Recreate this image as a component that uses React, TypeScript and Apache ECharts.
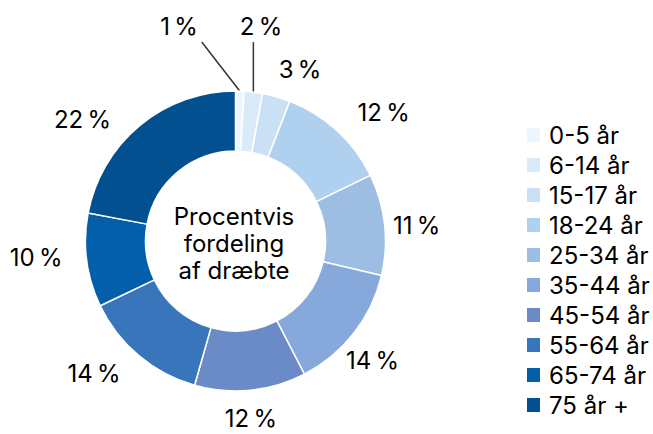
import React, { useEffect, useRef } from "react";
import * as echarts from "echarts";

// ---- data ----
const CATEGORIES = ["0-5 år", "6-14 år", "15-17 år", "18-24 år", "25-34 år", "35-44 år", "45-54 år", "55-64 år", "65-74 år", "75 år +"];
const SHARES = [0.9, 2.0, 3.0, 11.9, 10.9, 13.7, 12.0, 13.5, 10.1, 22.0];
const CENTER_TEXT = ["Procentvis", "fordeling", "af dræbte"];

// ---- styling ----
const COLORS = ["#eef6fd", "#daebf8", "#c9e0f5", "#afd0ee", "#9dbde3", "#87a8db", "#6a8bc7", "#3875ba", "#045fab", "#02508f"];
const FONT = "Inter, 'Noto Sans', sans-serif";
const FONT_SIZE = 24;
// label nudges relative to the default outside anchor
const LABEL_NUDGE: number[][] = [
  [-65.7, -64.4],
  [2.6, -65.4],
  [18.6, -26.7],
  [41.5, -18.2],
  [27.1, 1.3],
  [13.8, 27],
  [-4.6, 28],
  [-39.8, 18.3],
  [-45.7, -2.8],
  [-52.4, -6.4],
];
// leader line end offsets relative to slice edge point (only small slices)
const LEADER: Record<number, number[]> = { 0: [-38, -49], 1: [0, -50] };

export default function App() {
  const ref = useRef<HTMLDivElement>(null);
  useEffect(() => {
    if (!ref.current) return;
    const chart = echarts.init(ref.current, undefined, { renderer: "svg" });
    const data = CATEGORIES.map((name, i) => ({
      name,
      value: SHARES[i],
      itemStyle: { color: COLORS[i] },
      labelLine: { show: LEADER[i] !== undefined },
    }));
    chart.setOption({
      animation: false,
      backgroundColor: "#ffffff",
      legend: {
        orient: "vertical",
        left: 525,
        top: 123,
        padding: 0,
        icon: "rect",
        itemWidth: 15,
        itemHeight: 16,
        itemGap: 6,
        selectedMode: false,
        data: CATEGORIES,
        textStyle: { fontFamily: FONT, fontSize: FONT_SIZE, color: "#000", padding: [0, 0, 0, 3] },
      },
      graphic: [
        {
          type: "text",
          x: 234,
          y: 243,
          style: {
            text: CENTER_TEXT.join("\n"),
            font: `${FONT_SIZE}px ${FONT}`,
            fill: "#000",
            align: "center",
            verticalAlign: "middle",
            lineHeight: 27,
          },
        },
      ],
      series: [
        {
          type: "pie",
          center: [235.5, 241],
          radius: [90, 150],
          startAngle: 90,
          clockwise: true,
          avoidLabelOverlap: false,
          emphasis: { disabled: true },
          itemStyle: { borderColor: "#ffffff", borderWidth: 1.5 },
          label: {
            show: true,
            position: "outside",
            formatter: (p: any) => Math.round(p.value) + "\u202F%",
            fontFamily: FONT,
            fontSize: FONT_SIZE,
            lineHeight: 20,
            color: "#000",
            distanceToLabelLine: 5,
          },
          labelLine: {
            show: false,
            length: 0,
            length2: 0,
            lineStyle: { color: "#333", width: 1.5 },
          },
          labelLayout: (params: any) => {
            const i = params.dataIndex;
            const n = LABEL_NUDGE[i];
            const res: any = { dx: n[0], dy: n[1], align: "center", verticalAlign: "middle" };
            const lead = LEADER[i];
            if (lead && params.labelLinePoints && params.labelLinePoints[0]) {
              const p0 = params.labelLinePoints[0];
              res.labelLinePoints = [
                [p0[0], p0[1]],
                [p0[0] + lead[0], p0[1] + lead[1]],
              ];
            }
            return res;
          },
          data,
        },
      ],
    });
    return () => chart.dispose();
  }, []);
  return <div ref={ref} style={{ position: "fixed", left: 0, top: 0, width: 653, height: 434, background: "#fff" }} />;
}
